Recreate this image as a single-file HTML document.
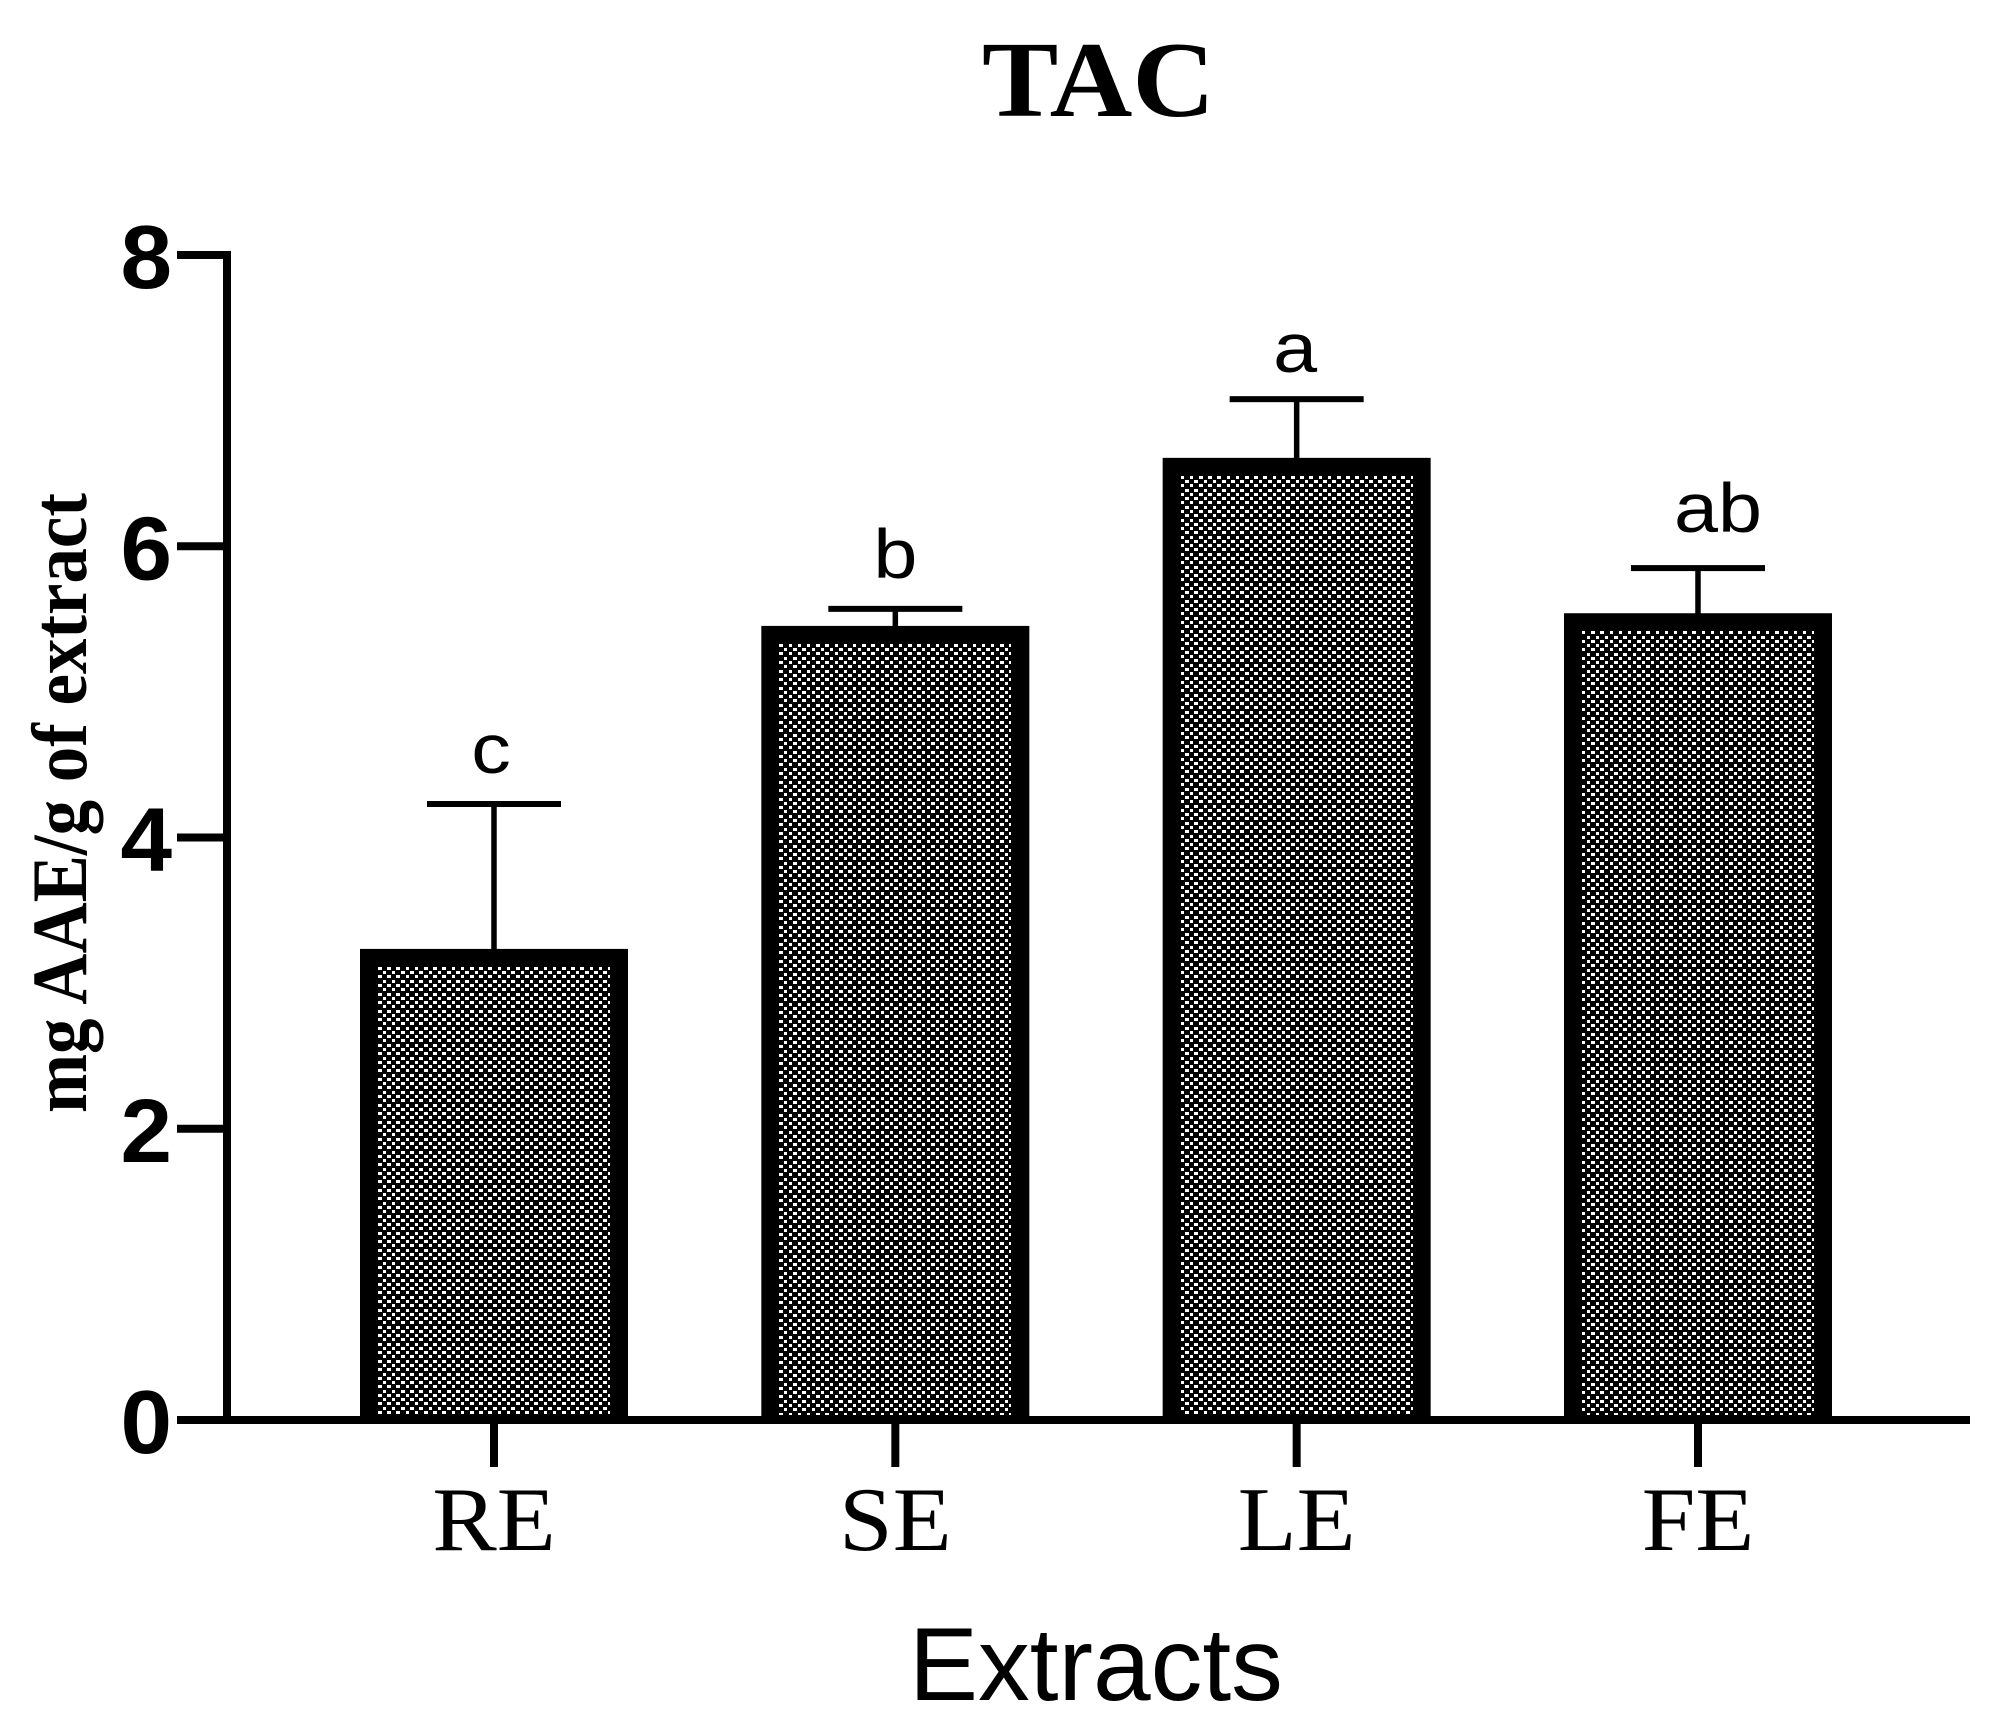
<!DOCTYPE html>
<html lang="en">
<head>
<meta charset="utf-8">
<title>TAC</title>
<style>
  html, body { margin: 0; padding: 0; background: #fff; }
  svg { display: block; }
  .sans { font-family: "Liberation Sans", Arial, sans-serif; }
  .serif { font-family: "Liberation Serif", "Times New Roman", serif; }
</style>
</head>
<body>
<svg id="chart" xmlns="http://www.w3.org/2000/svg" width="2008" height="1731" viewBox="0 0 2008 1731">
  <rect x="0" y="0" width="2008" height="1731" fill="#fff"/>
  <text class="serif" x="1098.5" y="116" font-size="108" font-weight="700" text-anchor="middle" textLength="233" lengthAdjust="spacingAndGlyphs">TAC</text>
  <text class="serif" transform="translate(86,1113) rotate(-90)" font-size="78" font-weight="700" textLength="620" lengthAdjust="spacingAndGlyphs">mg AAE/g of extract</text>
  <text class="sans" x="909" y="1700" font-size="103.5">Extracts</text>
  <g id="bars"></g>
  <g id="axes"></g>
</svg>
<script>
const categories = ['RE', 'SE', 'LE', 'FE'];
const seriesValues = [3.235, 5.453, 6.607, 5.54];
const seriesErrors = [0.995, 0.117, 0.403, 0.31];
const significance = ['c', 'b', 'a', 'ab'];
const yTickLabels = [0, 2, 4, 6, 8];

const NS = 'http://www.w3.org/2000/svg';
const barsGroup = document.getElementById('bars');
const axesGroup = document.getElementById('axes');

function yScale(v) { return 1420 - v * 145.625; }
function xScale(i) { return 494 + i * 401.33; }

function make(parent, tag, attrs, text) {
  const el = document.createElementNS(NS, tag);
  for (const k in attrs) el.setAttribute(k, attrs[k]);
  if (text !== undefined) el.textContent = text;
  parent.appendChild(el);
  return el;
}

const letterNudge = { c: [-3, 0], b: [0, 0], a: [-1.5, 4], ab: [20, -5] };
const HALF_BAR = 134;
const BORDER = 18;
const BASE_INNER = 1415;
const PERIOD_X = 9.2;
const PERIOD_ROW = 4.27;

categories.forEach(function (cat, i) {
  const cx = xScale(i);
  const top = yScale(seriesValues[i]);
  const errTop = yScale(seriesValues[i] + seriesErrors[i]);

  const stem = make(barsGroup, 'rect', { x: cx - 2.75, y: errTop, width: 5.5, height: top - errTop + 2, fill: '#000' });
  
  

  const cap = make(barsGroup, 'rect', { x: cx - 67, y: errTop - 3, width: 134, height: 6, fill: '#000' });
  
  

  const bar = make(barsGroup, 'rect', { x: cx - HALF_BAR, y: top, width: HALF_BAR * 2, height: 1420 - top, fill: '#000' });
  
  

  const left = cx - HALF_BAR + BORDER;
  const right = cx + HALF_BAR - BORDER;
  const innerTop = top + BORDER;
  let d = '';
  for (let r = 0; innerTop + r * PERIOD_ROW < BASE_INNER; r++) {
    const ry = Math.round(innerTop + r * PERIOD_ROW);
    const h = Math.min(3, BASE_INNER - ry);
    if (h <= 0) continue;
    const offset = r % 2 ? PERIOD_X / 2 : 0;
    for (let c = 0; left + offset + c * PERIOD_X < right; c++) {
      const raw = left + offset + c * PERIOD_X;
      const sx = Math.round(raw);
      const w = Math.min(Math.round(raw + 3.5) - sx, Math.round(right) - sx);
      if (w > 0) d += 'M' + sx + ' ' + ry + 'h' + w + 'v' + h + 'h' + (-w) + 'z';
    }
  }
  const hatch = make(barsGroup, 'path', { d: d, fill: '#fff', 'shape-rendering': 'crispEdges' });
  
  

  const nudge = letterNudge[significance[i]] || [0, 0];
  const letter = make(barsGroup, 'text', { transform: 'translate(' + (cx + nudge[0]) + ',' + (errTop - 31 + nudge[1]) + ') scale(1.13,1)', 'font-size': 70, 'text-anchor': 'middle', class: 'sans' }, significance[i]);
  
  

  const tick = make(axesGroup, 'rect', { x: cx - 4, y: 1424, width: 8, height: 43, fill: '#000' });
  
  

  const label = make(axesGroup, 'text', { transform: 'translate(' + cx + ',1550) scale(1.06,1)', 'font-size': 91, 'text-anchor': 'middle', class: 'serif' }, cat);
  
  
});

const yAxisLine = make(axesGroup, 'rect', { x: 223, y: yScale(8) - 4, width: 8, height: yScale(0) - yScale(8) + 8, fill: '#000' });



const xAxisLine = make(axesGroup, 'rect', { x: 177, y: 1416, width: 1793, height: 8, fill: '#000' });



yTickLabels.forEach(function (t) {
  const ty = yScale(t);
  const tick = make(axesGroup, 'rect', { x: 177, y: ty - 4, width: 50, height: 8, fill: '#000' });
  
  

  const label = make(axesGroup, 'text', { transform: 'translate(172,' + (ty + 33) + ') scale(1.03,1)', 'font-size': 90, 'font-weight': 700, 'text-anchor': 'end', class: 'sans' }, String(t));
  
  
});
</script>
</body>
</html>
